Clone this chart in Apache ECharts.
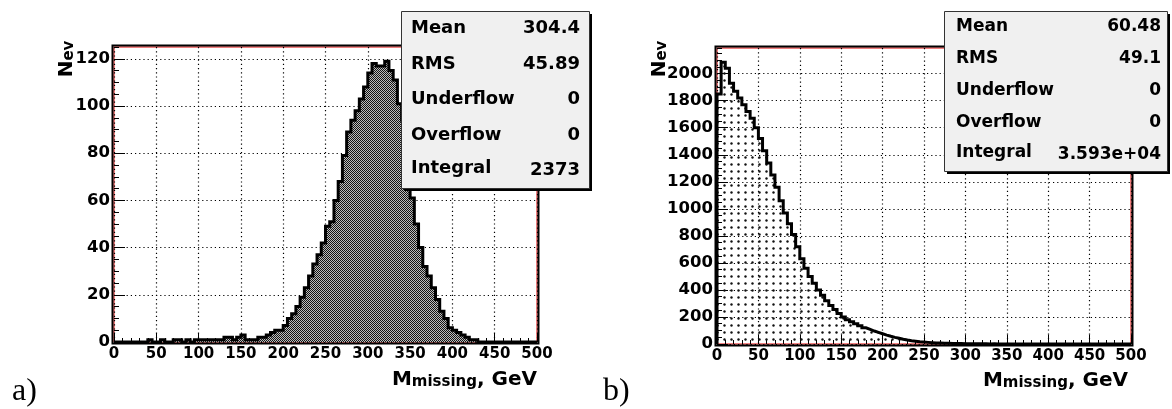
<!DOCTYPE html>
<html>
<head>
<meta charset="utf-8">
<script src="https://cdn.jsdelivr.net/npm/echarts@6/dist/echarts.min.js"></script>
<style>
  html, body { margin: 0; padding: 0; background: #fff; }
  #chart { width: 1172px; height: 409px; }
</style>
</head>
<body>
<div id="chart"></div>
<script>
// Missing-mass spectra: 100 bins of 5 GeV between 0 and 500 GeV.
const binWidth = 5;
const xMin = 0;
const xMax = 500;

// Panel a) bin contents
const countsA = [
  0, 0, 0, 0, 0, 0, 0, 0, 1, 0,
  0, 1, 0, 0, 1, 1, 0, 1, 0, 1,
  1, 1, 1, 1, 1, 1, 2, 2, 1, 2,
  3, 1, 1, 1, 2, 2, 3, 4, 5, 5,
  7, 10, 12, 15, 19, 23, 28, 33, 37, 42,
  49, 51, 60, 68, 79, 89, 94, 98, 103, 108,
  114, 118, 117, 117, 119, 115, 111, 101, 94, 76,
  61, 50, 40, 32, 28, 23, 18, 13, 10, 6,
  5, 4, 3, 2, 1, 1, 0, 0, 0, 0,
  0, 0, 0, 0, 0, 0, 0, 0, 0, 0
];

// Panel b) bin contents
const countsB = [
  1850, 2085, 2040, 1930, 1870, 1820, 1770, 1720, 1670, 1600,
  1520, 1430, 1340, 1250, 1160, 1060, 970, 890, 810, 720,
  630, 560, 500, 450, 400, 360, 320, 285, 255, 225,
  200, 180, 165, 150, 135, 120, 108, 96, 86, 76,
  66, 57, 49, 42, 35, 29, 24, 20, 16, 14,
  12, 10, 8, 7, 6, 5, 4, 3, 3, 2,
  2, 1, 1, 1, 1, 0, 1, 0, 0, 0,
  0, 0, 0, 0, 0, 0, 0, 0, 0, 0,
  0, 0, 0, 0, 0, 0, 0, 0, 0, 0,
  0, 0, 0, 0, 0, 0, 0, 0, 0, 0
];

// Axis ranges and tick values
const yMaxA = 125;
const yMaxB = 2190;
const yTicksA = [0, 20, 40, 60, 80, 100, 120];
const yTicksB = [0, 200, 400, 600, 800, 1000, 1200, 1400, 1600, 1800, 2000];
const yMinorStepA = 5;
const yMinorStepB = 50;

// Statistics boxes
const statNames = ['Mean', 'RMS', 'Underflow', 'Overflow', 'Integral'];
const statsA = ['304.4', '45.89', '0', '0', '2373'];
const statsB = ['60.48', '49.1', '0', '0', '3.593e+04'];

const FONT = 'DejaVu Sans';

// Outline of a histogram as a closed step path in data coordinates
function stepPoints(counts) {
  const pts = [[xMin, 0]];
  counts.forEach((c, i) => {
    const x0 = xMin + i * binWidth;
    pts.push([x0, c], [x0 + binWidth, c]);
  });
  pts.push([xMax, 0]);
  return pts;
}

// Fine checker hatch
function checkerPattern() {
  const c = document.createElement('canvas');
  c.width = 2; c.height = 2;
  const g = c.getContext('2d');
  g.fillStyle = '#141414';
  g.fillRect(0, 0, 1, 1); g.fillRect(1, 1, 1, 1);
  g.fillStyle = '#bdbdbd';
  g.fillRect(1, 0, 1, 1); g.fillRect(0, 1, 1, 1);
  return c;
}

// Sparse dot hatch
function dotPattern() {
  const c = document.createElement('canvas');
  c.width = 7; c.height = 7;
  const g = c.getContext('2d');
  g.fillStyle = '#111';
  g.beginPath(); g.arc(3.5, 3.5, 1.2, 0, Math.PI * 2); g.fill();
  return c;
}

const panels = [
  {
    grid: { left: 114, top: 47, width: 423, height: 295 },
    counts: countsA, yMax: yMaxA, yTicks: yTicksA, yMinor: yMinorStepA,
    fill: checkerPattern(), stats: statsA,
    box: { x: 401, y: 11, w: 188, h: 177, font: 18, padL: 10, padR: 9 },
    xTitle: { x: 537, y: 380 },
    yTitle: { gap: 37.5, centerY: 59 },
    tag: { text: 'a)', x: 12, y: 408 }
  },
  {
    grid: { left: 717, top: 48, width: 414, height: 296 },
    counts: countsB, yMax: yMaxB, yTicks: yTicksB, yMinor: yMinorStepB,
    fill: dotPattern(), stats: statsB,
    box: { x: 944, y: 11, w: 223, h: 160, font: 17, padL: 12, padR: 6 },
    xTitle: { x: 1128, y: 381 },
    yTitle: { gap: 47, centerY: 59 },
    tag: { text: 'b)', x: 603, y: 408 }
  }
];

const labelStyle = { color: '#000', fontFamily: FONT, fontWeight: 'bold' };
const dotted = { color: '#000', width: 1.2, type: [1.2, 3] };
const plain = v => String(v);

const richMain = { fontFamily: FONT, fontWeight: 'bold', fontSize: 20, lineHeight: 20,
  verticalAlign: 'top', color: '#000', fill: '#000' };
const richSub = { fontFamily: FONT, fontWeight: 'bold', fontSize: 15, lineHeight: 15,
  padding: [9, 0, 0, 0], verticalAlign: 'bottom', color: '#000', fill: '#000' };

const grids = [], xAxes = [], yAxes = [], series = [], graphics = [];

panels.forEach((p, i) => {
  grids.push(Object.assign({
    show: true, borderColor: '#e00000', borderWidth: 1,
    backgroundColor: 'rgba(0,0,0,0)', containLabel: false, outerBoundsMode: 'none'
  }, p.grid));

  xAxes.push({
    type: 'value', gridIndex: i, min: xMin, max: xMax, interval: 50,
    axisLine: { show: false },
    axisTick: { show: true, inside: true, length: 9, lineStyle: { color: '#000', width: 1 } },
    minorTick: { show: true, splitNumber: 5, length: 4, lineStyle: { color: '#000', width: 1 } },
    splitLine: { show: true, lineStyle: dotted },
    minorSplitLine: { show: false },
    axisLabel: Object.assign({ fontSize: 15, margin: 5, hideOverlap: false, formatter: plain }, labelStyle)
  });

  // the rotated N_ev title sits near the top of the axis: shift it along the axis
  const axisMid = p.grid.top + p.grid.height / 2;
  const along = axisMid - p.yTitle.centerY;

  // major ticks, labels, grid lines and the axis title
  yAxes.push({
    type: 'value', gridIndex: i, position: 'left', min: 0, max: p.yMax,
    interval: p.yTicks[1] - p.yTicks[0],
    name: '{m|N}{s|ev}', nameLocation: 'middle', nameRotate: 90, nameGap: p.yTitle.gap,
    nameMoveOverlap: false,
    nameTextStyle: { rich: { m: richMain, s: richSub },
      padding: [0, 0, 0, 2 * along] },
    axisLine: { show: false },
    axisTick: { show: true, inside: true, length: 11, customValues: p.yTicks,
      lineStyle: { color: '#000', width: 1 } },
    splitLine: { show: true, lineStyle: dotted },
    axisLabel: Object.assign({ fontSize: 16.5, margin: 4, customValues: p.yTicks,
      hideOverlap: false, formatter: plain }, labelStyle)
  });
  // minor ticks
  yAxes.push({
    type: 'value', gridIndex: i, position: 'left', offset: 0, min: 0, max: p.yMax,
    interval: p.yMinor,
    axisLine: { show: false },
    axisTick: { show: true, inside: true, length: 5, lineStyle: { color: '#000', width: 1 } },
    splitLine: { show: false },
    axisLabel: { show: false }
  });

  series.push({
    type: 'line', xAxisIndex: i, yAxisIndex: 2 * i,
    data: stepPoints(p.counts),
    symbol: 'none', smooth: false, sampling: null, clip: true,
    lineStyle: { color: '#000', width: 3, join: 'miter' },
    areaStyle: { color: { image: p.fill, repeat: 'repeat' }, opacity: 1 },
    z: 3
  });

  // black outer frame around the red plot border
  const g = p.grid;
  graphics.push({
    type: 'rect', z: 100,
    shape: { x: g.left - 1.5, y: g.top - 1.5, width: g.width + 3, height: g.height + 3 },
    style: { fill: null, stroke: '#000', lineWidth: 2 }
  });

  // statistics box with drop shadow
  const b = p.box;
  graphics.push({
    type: 'rect', z: 200,
    shape: { x: b.x + 3, y: b.y + 3, width: b.w, height: b.h },
    style: { fill: '#000' }
  });
  graphics.push({
    type: 'rect', z: 201,
    shape: { x: b.x + 0.5, y: b.y + 0.5, width: b.w, height: b.h },
    style: { fill: '#f0f0f0', stroke: '#333', lineWidth: 1 }
  });
  const rowH = b.h / statNames.length;
  statNames.forEach((name, r) => {
    const cy = b.y + (r + 0.5) * rowH;
    graphics.push({
      type: 'text', z: 202, x: b.x + b.padL, y: cy - (name === 'Integral' ? 2 : 0),
      style: { text: name, fill: '#000', fontFamily: FONT, fontWeight: 'bold',
        fontSize: b.font, align: 'left', verticalAlign: 'middle' }
    });
    graphics.push({
      type: 'text', z: 202, x: b.x + b.w - b.padR, y: cy,
      style: { text: p.stats[r], fill: '#000', fontFamily: FONT, fontWeight: 'bold',
        fontSize: b.font, align: 'right', verticalAlign: 'middle' }
    });
  });

  // x axis title
  graphics.push({
    type: 'text', z: 150, x: p.xTitle.x, y: p.xTitle.y,
    style: { text: '{m|M}{s|missing}{m|, GeV}', align: 'right', verticalAlign: 'middle',
      rich: { m: richMain, s: richSub } }
  });

  // panel tag
  graphics.push({
    type: 'text', z: 150, x: p.tag.x, y: p.tag.y,
    style: { text: p.tag.text, fill: '#000', fontFamily: 'Liberation Serif',
      fontSize: 32, align: 'left', verticalAlign: 'bottom' }
  });
});

const chart = echarts.init(document.getElementById('chart'), null, { renderer: 'canvas' });
chart.setOption({
  animation: false,
  backgroundColor: '#fff',
  grid: grids,
  xAxis: xAxes,
  yAxis: yAxes,
  series: series,
  graphic: { elements: graphics }
});
</script>
</body>
</html>
